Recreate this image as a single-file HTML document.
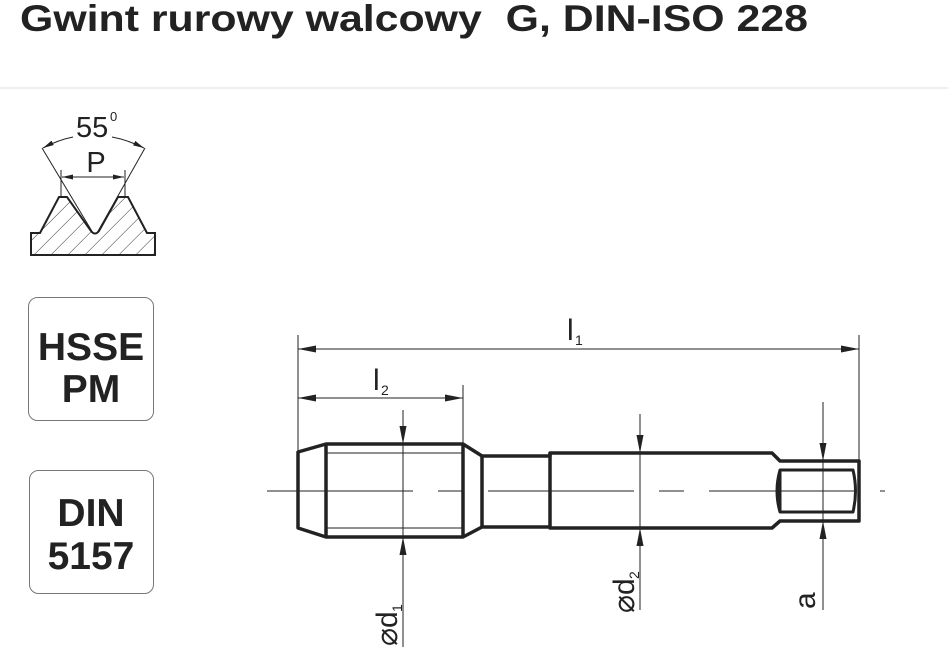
<!DOCTYPE html>
<html><head><meta charset="utf-8"><style>
body{margin:0;background:#fff;width:948px;height:647px;overflow:hidden}
svg{display:block}
</style></head><body>
<svg width="948" height="647" viewBox="0 0 948 647" xmlns="http://www.w3.org/2000/svg" font-family="Liberation Sans, Arial, sans-serif">
<defs>
<marker id="ar" viewBox="0 0 18 7" refX="18" refY="3.5" markerWidth="18" markerHeight="7" markerUnits="userSpaceOnUse" orient="auto-start-reverse"><path d="M0,0 L18,3.5 L0,7 z" fill="#222"/></marker>
<marker id="sa" viewBox="0 0 11 5" refX="11" refY="2.5" markerWidth="11" markerHeight="5" markerUnits="userSpaceOnUse" orient="auto-start-reverse"><path d="M0,0 L11,2.5 L0,5 z" fill="#222"/></marker>
<pattern id="h" patternUnits="userSpaceOnUse" width="12" height="12" patternTransform="rotate(45)"><line x1="0" y1="0" x2="0" y2="12" stroke="#333" stroke-width="1"/></pattern>
<clipPath id="cp"><path d="M31,233 L40,233 L59,197 L67,197 L91,231 Q95,236 99,231 L118,197 L128,197 L147,233 L155,233 L155,255 L31,255 Z"/></clipPath>
</defs>
<text x="20" y="31" font-size="37" font-weight="bold" fill="#222" textLength="788" lengthAdjust="spacingAndGlyphs">Gwint rurowy walcowy&#160; G, DIN-ISO 228</text>
<line x1="0" y1="88" x2="948" y2="88" stroke="#ddd" stroke-width="1"/>

<!-- thread profile -->
<rect x="20" y="180" width="150" height="80" fill="url(#h)" clip-path="url(#cp)"/>
<path d="M31,233 L40,233 L59,197 L67,197 L91,231 Q95,236 99,231 L118,197 L128,197 L147,233 L155,233 L155,255 L31,255 Z" fill="none" stroke="#222" stroke-width="2"/>
<line x1="42" y1="148" x2="93" y2="233" stroke="#222" stroke-width="1"/>
<line x1="145" y1="148" x2="97" y2="233" stroke="#222" stroke-width="1"/>
<line x1="61" y1="170" x2="61" y2="198" stroke="#222" stroke-width="1"/>
<line x1="125" y1="170" x2="125" y2="198" stroke="#222" stroke-width="1"/>
<line x1="62" y1="177" x2="124" y2="177" stroke="#222" stroke-width="1" marker-start="url(#sa)" marker-end="url(#sa)"/>
<path d="M73,137 Q58,140 43,148" fill="none" stroke="#222" stroke-width="1" marker-end="url(#sa)"/>
<path d="M112,137 Q128,140 144,148" fill="none" stroke="#222" stroke-width="1" marker-end="url(#sa)"/>
<text x="76" y="137" font-size="29" fill="#222">55</text>
<text x="110" y="121" font-size="13" fill="#222">0</text>
<text x="96" y="172" font-size="29" fill="#222" text-anchor="middle">P</text>

<!-- boxes -->
<rect x="28.5" y="297.5" width="125" height="123" rx="9" fill="none" stroke="#777" stroke-width="1"/>
<text x="91" y="360" font-size="39" font-weight="bold" fill="#222" text-anchor="middle">HSSE</text>
<text x="91" y="402" font-size="39" font-weight="bold" fill="#222" text-anchor="middle">PM</text>
<rect x="29.5" y="470.5" width="124" height="123" rx="9" fill="none" stroke="#777" stroke-width="1"/>
<text x="91" y="526" font-size="39" font-weight="bold" fill="#222" text-anchor="middle">DIN</text>
<text x="91" y="569" font-size="39" font-weight="bold" fill="#222" text-anchor="middle">5157</text>

<!-- tap -->
<g fill="none" stroke="#222" stroke-width="3.5" stroke-linejoin="round">
<path d="M298,452 L326,444 L463,444 L482,456 L550,456 L550,453 L772,453 L780,461 L859,461 L859,521 L780,521 L772,528 L550,528 L550,527 L482,527 L463,537 L326,537 L298,528 Z"/>
<line x1="326" y1="444" x2="326" y2="537"/>
<line x1="463" y1="444" x2="463" y2="537"/>
<line x1="482" y1="456" x2="482" y2="527"/>
<line x1="550" y1="453" x2="550" y2="528"/>
<path d="M780,470 L853,470 Q858,491 853,512 L780,512 Q774,491 780,470 Z" stroke-width="3"/>
<line x1="780" y1="470" x2="780" y2="512" stroke-width="3"/>
</g>
<line x1="326" y1="453" x2="463" y2="453" stroke="#222" stroke-width="1"/>
<line x1="326" y1="528" x2="463" y2="528" stroke="#222" stroke-width="1"/>
<line x1="267" y1="491" x2="885" y2="491" stroke="#222" stroke-width="1" stroke-dasharray="146,25,25,25"/>

<!-- dimensions -->
<g stroke="#222" stroke-width="1" fill="none">
<line x1="298" y1="335" x2="298" y2="452"/>
<line x1="859" y1="335" x2="859" y2="461"/>
<line x1="463" y1="385" x2="463" y2="444"/>
<line x1="298" y1="349" x2="859" y2="349" marker-start="url(#ar)" marker-end="url(#ar)"/>
<line x1="298" y1="398" x2="463" y2="398" marker-start="url(#ar)" marker-end="url(#ar)"/>
<line x1="403" y1="410" x2="403" y2="444" marker-end="url(#ar)"/>
<line x1="403" y1="647" x2="403" y2="537" marker-end="url(#ar)"/>
<line x1="403" y1="444" x2="403" y2="537"/>
<line x1="640" y1="414" x2="640" y2="453" marker-end="url(#ar)"/>
<line x1="640" y1="610" x2="640" y2="528" marker-end="url(#ar)"/>
<line x1="640" y1="453" x2="640" y2="528"/>
<line x1="823" y1="402" x2="823" y2="461" marker-end="url(#ar)"/>
<line x1="823" y1="610" x2="823" y2="521" marker-end="url(#ar)"/>
<line x1="823" y1="461" x2="823" y2="521"/>
</g>
<text x="567" y="340" font-size="30" fill="#222">l</text><text x="575" y="345" font-size="14" fill="#222">1</text>
<text x="373" y="390" font-size="30" fill="#222">l</text><text x="381" y="395" font-size="14" fill="#222">2</text>
<g fill="#222">
<text transform="translate(397,646) rotate(-90)" font-size="30">⌀d</text><text transform="translate(402,612) rotate(-90)" font-size="14">1</text>
<text transform="translate(634,613) rotate(-90)" font-size="30">⌀d</text><text transform="translate(639,579) rotate(-90)" font-size="14">2</text>
<text transform="translate(815,609) rotate(-90)" font-size="30">a</text>
</g>
</svg>
</body></html>
